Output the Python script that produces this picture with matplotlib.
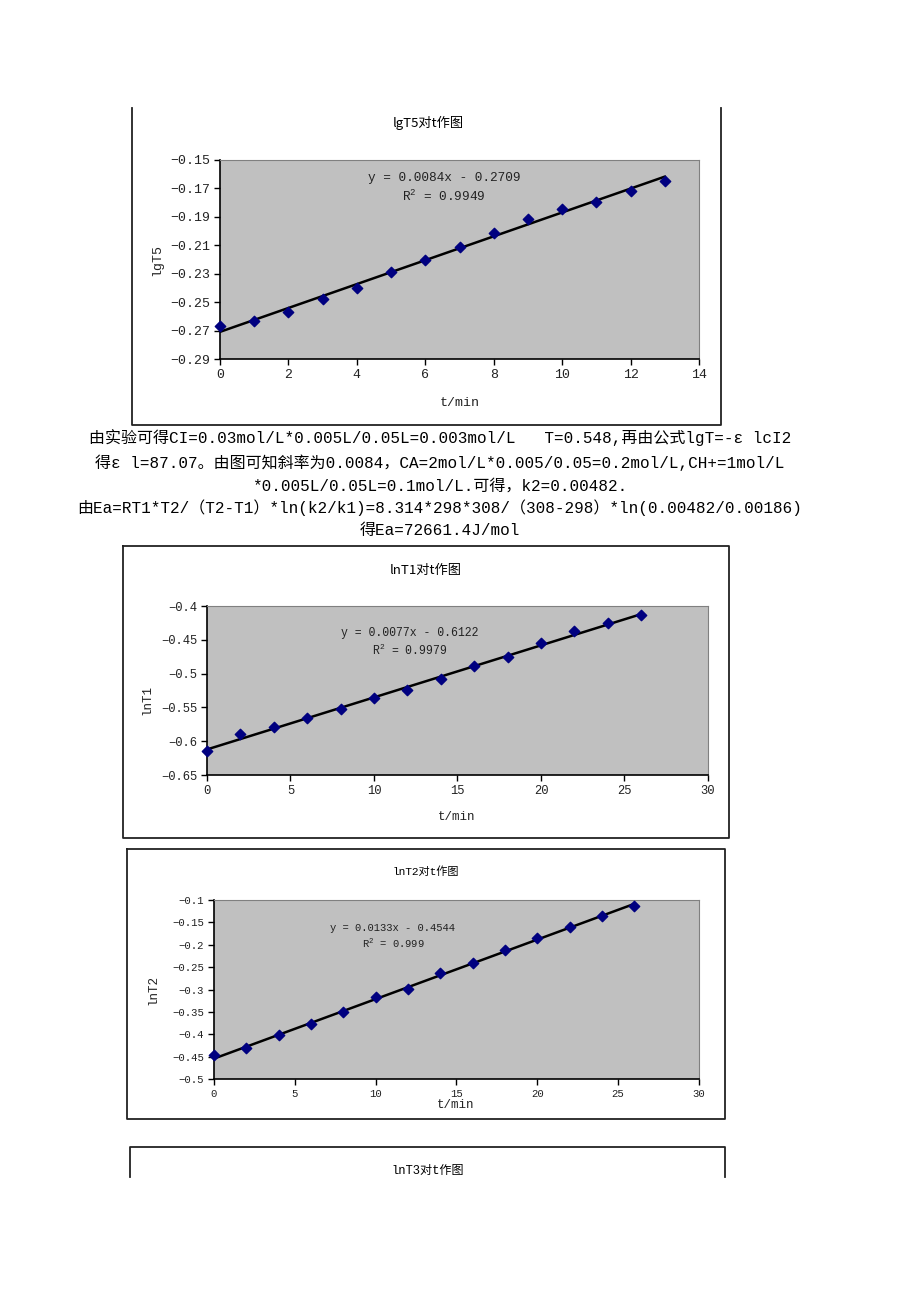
import numpy as np
import matplotlib
matplotlib.use("Agg")
import matplotlib.pyplot as plt
from matplotlib.lines import Line2D
from matplotlib.ticker import FixedLocator, FuncFormatter

plt.rcParams['mathtext.fontset'] = 'custom'
plt.rcParams['mathtext.rm'] = 'Liberation Mono'
plt.rcParams['mathtext.it'] = 'Liberation Mono'
MONO = ['Liberation Mono', 'Noto Sans CJK SC']
SANS = ['Noto Sans CJK SC', 'DejaVu Sans']

W, H = 920, 1301

# ---------------- data ----------------
t5 = [0, 1, 2, 3, 4, 5, 6, 7, 8, 9, 10, 11, 12, 13]
lgT5 = [-0.2670, -0.2635, -0.2572, -0.2480, -0.2403, -0.2290, -0.2201,
        -0.2110, -0.2014, -0.1915, -0.1842, -0.1798, -0.1716, -0.1648]
fit5 = (0.0084, -0.2709)
eq5 = ["y = 0.0084x - 0.2709", "R$^{2}$ = 0.9949"]
yticks5 = [-0.29, -0.27, -0.25, -0.23, -0.21, -0.19, -0.17, -0.15]
xticks5 = [0, 2, 4, 6, 8, 10, 12, 14]

t1 = [0, 2, 4, 6, 8, 10, 12, 14, 16, 18, 20, 22, 24, 26]
lnT1 = [-0.6142, -0.5897, -0.5794, -0.5652, -0.5529, -0.5358, -0.5240,
        -0.5078, -0.4892, -0.4750, -0.4554, -0.4377, -0.4255, -0.4137]
fit1 = (0.0077, -0.6122)
eq1 = ["y = 0.0077x - 0.6122", "R$^{2}$ = 0.9979"]
yticks1 = [-0.65, -0.6, -0.55, -0.5, -0.45, -0.4]
xticks1 = [0, 5, 10, 15, 20, 25, 30]

t2 = [0, 2, 4, 6, 8, 10, 12, 14, 16, 18, 20, 22, 24, 26]
lnT2 = [-0.4465, -0.4314, -0.4020, -0.3765, -0.3493, -0.3177, -0.2989,
        -0.2642, -0.2416, -0.2115, -0.1851, -0.1603, -0.1354, -0.1128]
fit2 = (0.0133, -0.4544)
eq2 = ["y = 0.0133x - 0.4544", "R$^{2}$ = 0.999"]
yticks2 = [-0.5, -0.45, -0.4, -0.35, -0.3, -0.25, -0.2, -0.15, -0.1]
xticks2 = [0, 5, 10, 15, 20, 25, 30]

paragraph = [
    "由实验可得CI=0.03mol/L*0.005L/0.05L=0.003mol/L   T=0.548,再由公式lgT=-ε lcI2",
    "得ε l=87.07。由图可知斜率为0.0084，CA=2mol/L*0.005/0.05=0.2mol/L,CH+=1mol/L",
    "*0.005L/0.05L=0.1mol/L.可得，k2=0.00482.",
    "由Ea=RT1*T2/（T2-T1）*ln(k2/k1)=8.314*298*308/（308-298）*ln(0.00482/0.00186)",
    "得Ea=72661.4J/mol",
]
para_y = [438, 463, 486, 508, 531]

# ---------------- helpers ----------------
fig = plt.figure(figsize=(W / 100, H / 100), dpi=100)
fig.patch.set_facecolor('white')


def fx(x):
    return x / W


def fy(y):
    return 1 - y / H


def rect(l, t, r, b):
    return [fx(l), fy(b), (r - l) / W, (b - t) / H]


def frame_lines(pts, lw=1.3, color='#222222'):
    xs = [fx(p[0]) for p in pts]
    ys = [fy(p[1]) for p in pts]
    fig.add_artist(Line2D(xs, ys, transform=fig.transFigure, color=color, lw=lw))


def fig_text(x, y, s, **kw):
    fig.text(fx(x), fy(y), s, ha='center', va='center', **kw)


def make_chart(box, tx, ty, fit, eq, xt, yt, xlim, ylim, eqpos,
               tick_fs=9, eq_fs=9, fmt2=False):
    ax = fig.add_axes(rect(*box))
    ax.set_facecolor('#c0c0c0')
    ax.set_xlim(*xlim)
    ax.set_ylim(*ylim)
    xx = np.array([min(tx), max(tx)], dtype=float)
    ax.plot(xx, fit[0] * xx + fit[1], color='black', lw=1.8, zorder=2)
    ax.scatter(tx, ty, marker='D', s=28, color='#000080', zorder=3, clip_on=False)
    ax.xaxis.set_major_locator(FixedLocator(xt))
    ax.yaxis.set_major_locator(FixedLocator(yt))
    if fmt2:
        ax.yaxis.set_major_formatter(FuncFormatter(lambda v, p: ('%.2f' % v).replace('-', '\u2212')))
    else:
        ax.yaxis.set_major_formatter(FuncFormatter(lambda v, p: ('%g' % v).replace('-', '\u2212')))
    ax.xaxis.set_major_formatter(FuncFormatter(lambda v, p: '%g' % v))
    ax.tick_params(direction='out', length=4, width=1, color='black',
                   labelsize=tick_fs, pad=3, labelcolor='#222222')
    for lab in ax.get_xticklabels() + ax.get_yticklabels():
        lab.set_family(MONO)
    for side in ['top', 'right']:
        ax.spines[side].set_color('#808080')
        ax.spines[side].set_linewidth(0.8)
    for side in ['left', 'bottom']:
        ax.spines[side].set_color('black')
        ax.spines[side].set_linewidth(1.2)
    ax.text(eqpos[0], eqpos[1], eq[0], transform=ax.transAxes, ha='center',
            va='center', fontsize=eq_fs, family=MONO, color='#222222')
    ax.text(eqpos[0], eqpos[2], eq[1], transform=ax.transAxes, ha='center',
            va='center', fontsize=eq_fs, family=MONO, color='#222222')
    return ax


# ---------------- chart 1 : lgT5 ----------------
frame_lines([(132, 108), (132, 425), (721, 425), (721, 108)])
fig_text(428, 123, "lgT5对t作图", fontsize=9.5, family=SANS)
make_chart((220, 160, 699, 359), t5, lgT5, fit5, eq5, xticks5, yticks5,
           (0, 14), (-0.29, -0.15), (0.468, 0.91, 0.815), tick_fs=9.5, eq_fs=9.2,
           fmt2=True)
fig_text(157, 260, "lgT5", fontsize=9.5, family=MONO, rotation=90, color='#222222')
fig_text(460, 403, "t/min", fontsize=9.5, family=MONO, color='#222222')

# ---------------- paragraph ----------------
for s, y in zip(paragraph, para_y):
    fig_text(440, y, s, fontsize=11.5, family=MONO)

# ---------------- chart 2 : lnT1 ----------------
frame_lines([(123, 546), (729, 546), (729, 838), (123, 838), (123, 546)])
fig_text(426, 570, "lnT1对t作图", fontsize=9.5, family=SANS)
make_chart((207, 606, 708, 775), t1, lnT1, fit1, eq1, xticks1, yticks1,
           (0, 30), (-0.65, -0.4), (0.405, 0.84, 0.735), tick_fs=8.7, eq_fs=8.3)
fig_text(147, 700, "lnT1", fontsize=9, family=MONO, rotation=90, color='#222222')
fig_text(457, 817, "t/min", fontsize=9, family=MONO, color='#222222')

# ---------------- chart 3 : lnT2 ----------------
frame_lines([(127, 849), (725, 849), (725, 1119), (127, 1119), (127, 849)])
fig_text(426, 872, "lnT2对t作图", fontsize=8, family=MONO)
make_chart((214, 900, 699, 1079), t2, lnT2, fit2, eq2, xticks2, yticks2,
           (0, 30), (-0.5, -0.1), (0.369, 0.844, 0.76), tick_fs=7.7, eq_fs=7.6)
fig_text(153, 990, "lnT2", fontsize=9, family=MONO, rotation=90, color='#222222')
fig_text(456, 1105, "t/min", fontsize=9, family=MONO, color='#222222')

# ---------------- chart 4 (partial) ----------------
frame_lines([(130, 1177), (130, 1147), (725, 1147), (725, 1177)])
fig_text(428, 1171, "lnT3对t作图", fontsize=8.7, family=MONO)

fig.savefig("out.png", dpi=100, facecolor='white')
